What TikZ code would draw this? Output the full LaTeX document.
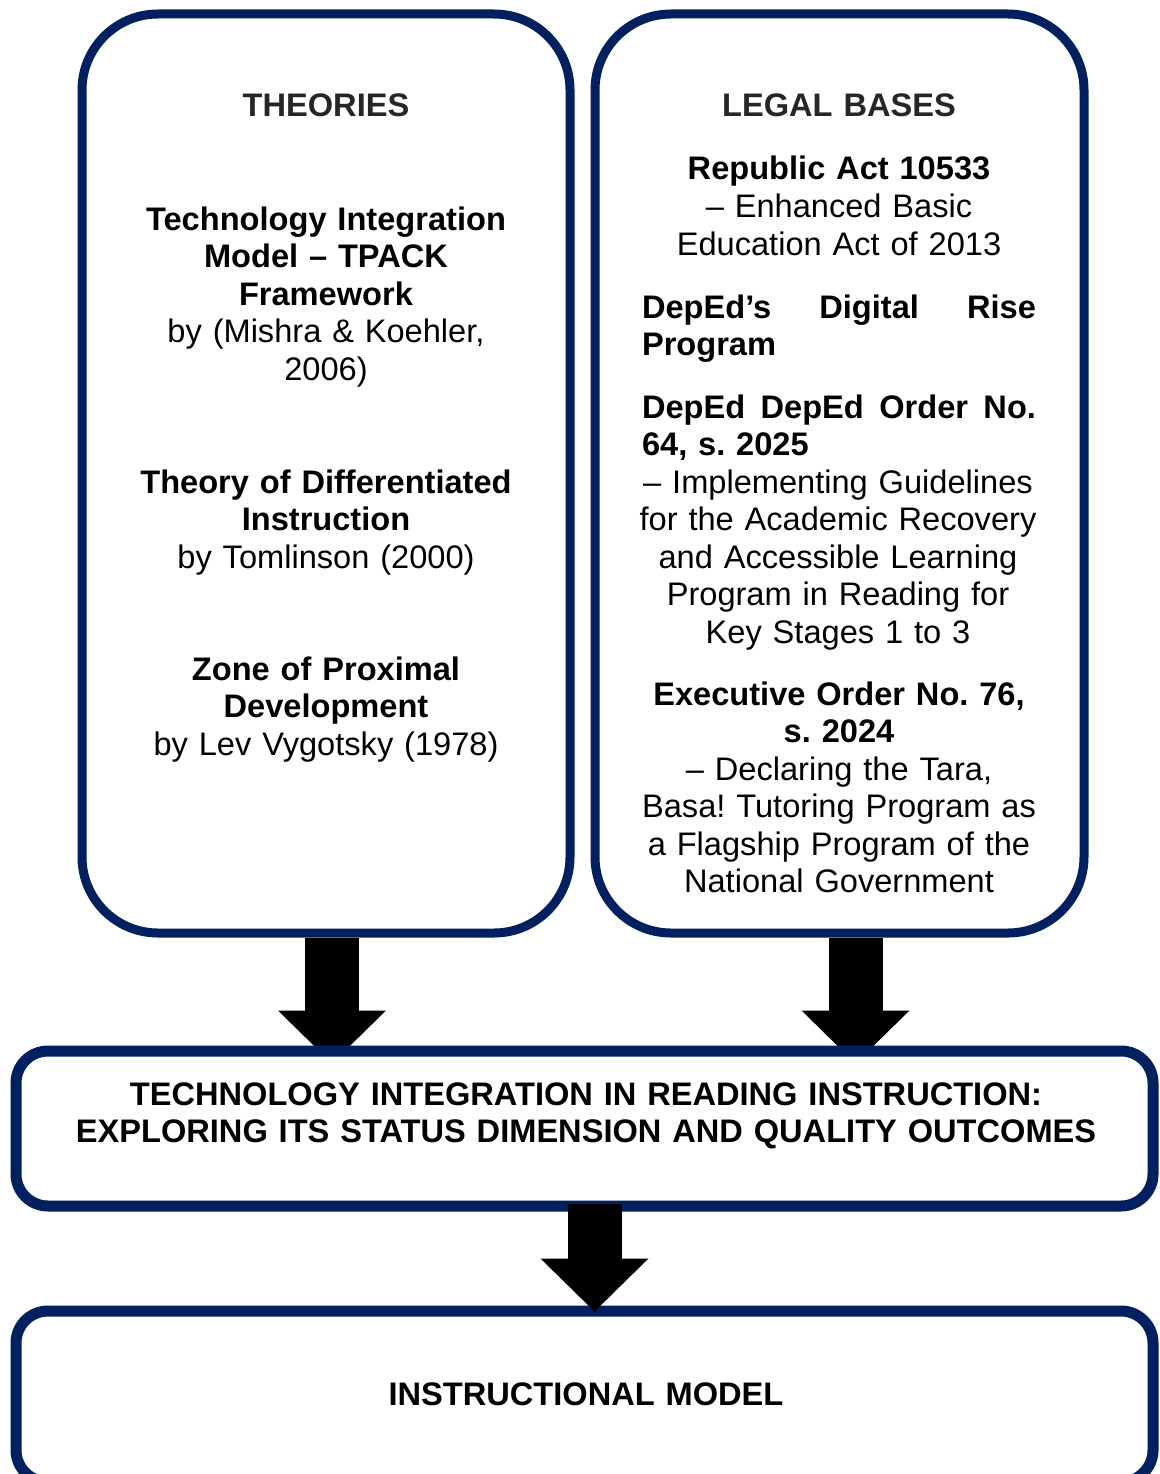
\documentclass[tikz,border=0pt]{standalone}
\usepackage{fontspec}
\setmainfont{Liberation Sans}
\usepackage{tikz}
\usepackage{xcolor}
\usetikzlibrary{arrows.meta,positioning}
\definecolor{navy}{HTML}{002060}
\definecolor{headgray}{HTML}{262626}
\pgfdeclarelayer{background}
\pgfsetlayers{background,main}
\newcommand{\colsize}{\fontsize{32.6}{37.5}\selectfont\frenchspacing\hyphenpenalty=10000}
\tikzset{
  panel/.style={draw=navy,fill=white,line width=9pt,
                rounded corners=76pt,inner sep=0pt},
  band/.style={draw=navy,fill=white,line width=11pt,
               rounded corners=32pt,inner sep=0pt,minimum width=1137pt},
  coltxt/.style={inner sep=0pt,anchor=base,align=center,
                 text width=460pt,font=\colsize},
  lawtxt/.style={coltxt,text width=430pt},
  lawjust/.style={coltxt,text width=394pt,align=left},
  headtxt/.style={coltxt,font=\colsize\bfseries,text=headgray},
  blockarr/.style={-{Triangle[width=108pt,length=53pt,line width=0pt]},
                   line width=54pt,color=black}
}

\begin{document}
\begin{tikzpicture}[x=1pt,y=-1pt,>=Latex]
  \useasboundingbox (0,0) rectangle (1159,1474);
  \clip (0,0) rectangle (1159,1474);
  % the two framed columns
  \node[panel,minimum width=488pt,minimum height=919pt] (theories) at (326,473.5) {};
  \node[panel,minimum width=489pt,minimum height=919pt] (legal) at (839.5,473.5) {};
  % focus of the study and the output
  \node[band,minimum height=155pt] (focus) at (584.5,1128.5) {};
  \node[band,minimum height=171pt] (model) at (584.5,1396.5) {};

  % left column
  \node[headtxt] (theohead) at (326,117) {THEORIES};
  \node[coltxt] (tpack) at (326,230)
    {\textbf{Technology Integration\\Model – TPACK\\Framework}\\by (Mishra \& Koehler,\\2006)};
  \node[coltxt] (diffinst) at (326,493)
    {\textbf{Theory of Differentiated\\Instruction}\\by Tomlinson (2000)};
  \node[coltxt] (zpd) at (326,680)
    {\textbf{Zone of Proximal\\Development}\\by Lev Vygotsky (1978)};

  % right column
  \node[headtxt] (legalhead) at (839,117) {LEGAL BASES};
  \node[lawtxt] (ra) at (839,180)
    {\textbf{Republic Act 10533}\\– Enhanced Basic\\Education Act of 2013};
  \node[lawjust] (rise) at (839,318)
    {\textbf{DepEd’s\hfill Digital\hfill Rise\\Program}};
  \node[lawjust] (orderhead) at (839,418)
    {\textbf{DepEd\hfill DepEd\hfill Order\hfill No.\\64, s. 2025}};
  \node[lawtxt] (orderbody) at (838,493)
    {– Implementing Guidelines\\for the Academic Recovery\\and Accessible Learning\\
     Program in Reading for\\Key Stages 1 to 3};
  \node[lawtxt] (eo) at (839,705)
    {\textbf{Executive Order No. 76,\\s. 2024}\\– Declaring the Tara,\\Basa! Tutoring Program as\\
     a Flagship Program of the\\National Government};

  % lower boxes
  \node[coltxt,text width=1120pt,font=\colsize\bfseries] (focustxt) at (586,1105)
    {TECHNOLOGY INTEGRATION IN READING INSTRUCTION:\\EXPLORING ITS STATUS DIMENSION AND QUALITY OUTCOMES};
  \node[coltxt,text width=1120pt,font=\colsize\bfseries] (modeltxt) at (586,1405)
    {INSTRUCTIONAL MODEL};

  % block arrows
  \coordinate (theofoot) at ([xshift=6pt]theories.south);
  \coordinate (legalfoot) at ([xshift=16pt]legal.south);
  \coordinate (focusfoot) at ([xshift=10pt]focus.south);
  \begin{pgfonlayer}{background}
    \draw[blockarr,shorten >=-18pt] (theofoot) -- (theofoot |- focus.north);
    \draw[blockarr,shorten >=-18pt] (legalfoot) -- (legalfoot |- focus.north);
  \end{pgfonlayer}
  \draw[blockarr,shorten <=-8pt,shorten >=-6pt] (focusfoot) -- (focusfoot |- model.north);
\end{tikzpicture}
\end{document}
